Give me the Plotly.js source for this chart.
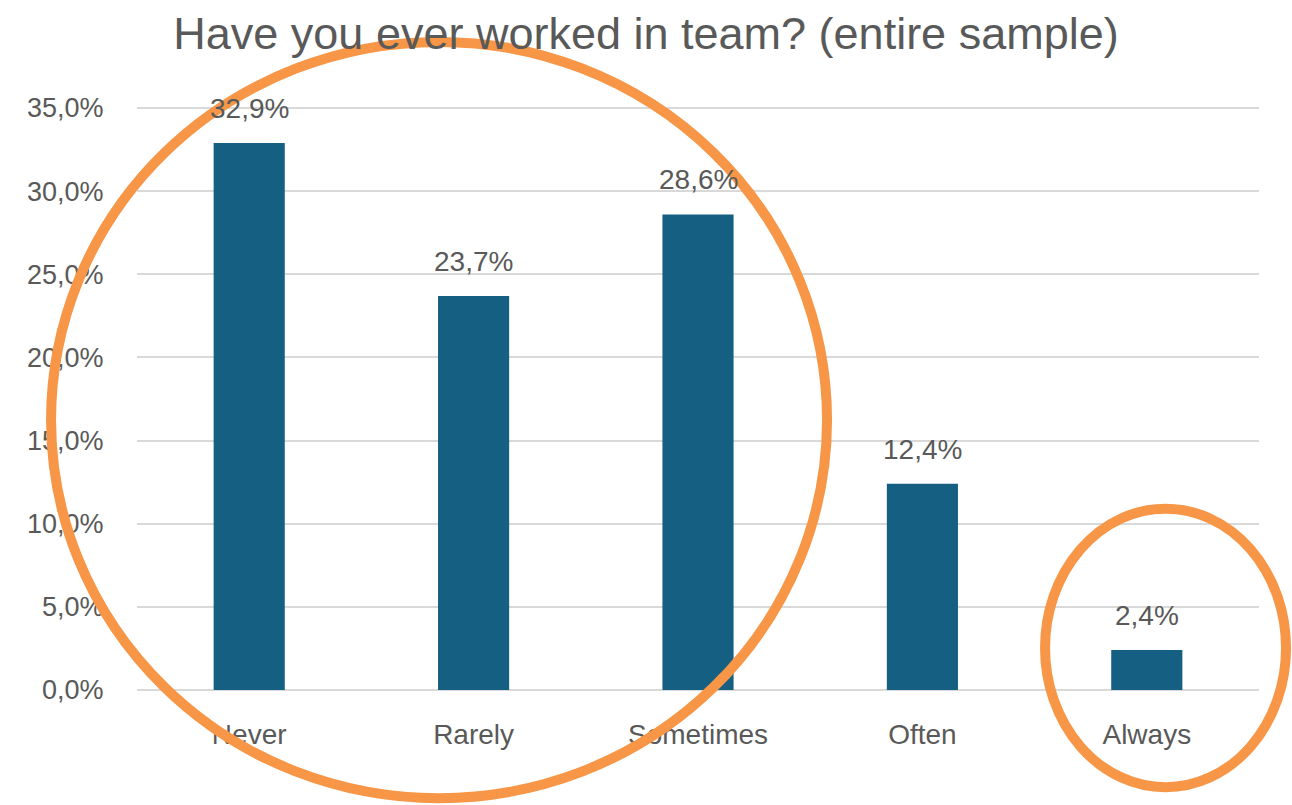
<!DOCTYPE html>
<html>
<head>
<meta charset="utf-8">
<script src="https://cdn.plot.ly/plotly-3.0.1.min.js"></script>
<style>html,body{margin:0;padding:0;background:#fff}#chart{width:1292px;height:805px}</style>
</head>
<body>
<div id="chart"></div>
<script>
const categories = ["Never", "Rarely", "Sometimes", "Often", "Always"];
const values = [32.9, 23.7, 28.6, 12.4, 2.4];
const yTickValues = [0, 5, 10, 15, 20, 25, 30, 35];
const yTickLabels = ["0,0%", "5,0%", "10,0%", "15,0%", "20,0%", "25,0%", "30,0%", "35,0%"];
const dataLabels = ["32,9%", "23,7%", "28,6%", "12,4%", "2,4%"];
const titleText = "Have you ever worked in team? (entire sample)";

const FONT = "Liberation Sans, Arial, sans-serif";
const GRAY = "#595959";
const ORANGE = "#F79646";
const yMax = yTickValues[yTickValues.length - 1];

const trace = {
  type: "bar",
  x: categories,
  y: values,
  width: 0.317,
  marker: { color: "#156082" },
  hoverinfo: "skip"
};

const annotations = categories.map((c, i) => ({
  x: c, y: values[i], xref: "x", yref: "y",
  text: dataLabels[i],
  showarrow: false, yanchor: "bottom", yshift: 17,
  font: { family: FONT, size: 28, color: GRAY }
}));

const layout = {
  width: 1292, height: 805,
  margin: { l: 137, r: 33, t: 107, b: 115, pad: 0 },
  paper_bgcolor: "#fff", plot_bgcolor: "#fff",
  showlegend: false,
  title: {
    text: titleText,
    x: 0.5, xanchor: "center", xref: "container",
    y: 1 - 33 / 805, yanchor: "middle", yref: "container",
    font: { family: FONT, size: 45, color: GRAY }
  },
  xaxis: {
    type: "category",
    range: [-0.5, 4.5],
    showgrid: false, zeroline: false, showline: false,
    ticks: "outside", ticklen: 19, tickcolor: "rgba(0,0,0,0)",
    tickfont: { family: FONT, size: 28, color: GRAY }
  },
  yaxis: {
    range: [0, 35.06],
    tickvals: yTickValues,
    ticktext: yTickLabels,
    showgrid: true, gridcolor: "#d9d9d9", gridwidth: 2,
    zeroline: true, zerolinecolor: "#d9d9d9", zerolinewidth: 2,
    showline: false,
    ticks: "outside", ticklen: 27, tickcolor: "rgba(0,0,0,0)",
    tickfont: { family: FONT, size: 27, color: GRAY }
  },
  annotations: annotations,
  shapes: [
    { type: "line", xref: "paper", yref: "y",
      x0: 0, x1: 1, y0: yMax, y1: yMax,
      line: { color: "#d9d9d9", width: 2 }, layer: "below" },
    { type: "circle", xref: "paper", yref: "paper",
      x0: -0.0766, x1: 0.6150, y0: -0.1856, y1: 1.1117,
      line: { color: ORANGE, width: 10 }, layer: "above" },
    { type: "circle", xref: "paper", yref: "paper",
      x0: 0.8093, x1: 1.0241, y0: -0.1667, y1: 0.3110,
      line: { color: ORANGE, width: 10 }, layer: "above" }
  ]
};

Plotly.newPlot("chart", [trace], layout, { displayModeBar: false, staticPlot: true });
</script>
</body>
</html>
